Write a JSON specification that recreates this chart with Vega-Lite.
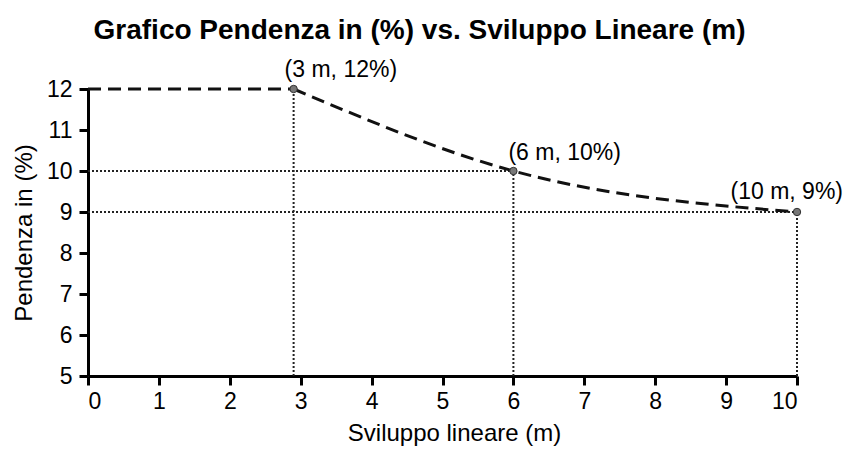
{
  "$schema": "https://vega.github.io/schema/vega-lite/v6.json",
  "autosize": "none",
  "width": 709,
  "height": 287,
  "padding": {"left": 88, "top": 89, "right": 48, "bottom": 74},
  "background": "white",
  "config": {
    "view": {"stroke": null},
    "font": "Liberation Sans",
    "axis": {
      "grid": false,
      "domainColor": "black",
      "domainWidth": 3,
      "tickColor": "black",
      "tickWidth": 3,
      "tickSize": 9,
      "labelFont": "Liberation Sans",
      "labelFontSize": 23,
      "labelColor": "black",
      "titleFont": "Liberation Sans",
      "titleFontSize": 24,
      "titleFontWeight": "normal",
      "titleColor": "black"
    }
  },
  "title": {
    "text": "Grafico Pendenza in (%) vs. Sviluppo Lineare (m)",
    "fontSize": 28,
    "fontWeight": "bold",
    "font": "Liberation Sans",
    "color": "black",
    "anchor": "middle",
    "dx": -23,
    "offset": 14
  },
  "datasets": {
    "curve": [
      {"seg": "a", "x": 0, "y": 12},
      {"seg": "a", "x": 2.9, "y": 12},
      {"seg": "b", "x": 2.9, "y": 12},
      {"seg": "b", "x": 6, "y": 10},
      {"seg": "b", "x": 10, "y": 9}
    ],
    "points": [
      {"x": 2.9, "y": 12, "label": "(3 m, 12%)"},
      {"x": 6, "y": 10, "label": "(6 m, 10%)"},
      {"x": 10, "y": 9, "label": "(10 m, 9%)"}
    ],
    "guides": [
      {"x": 0, "x2": 6, "y": 10, "y2": 10},
      {"x": 0, "x2": 10, "y": 9, "y2": 9},
      {"x": 2.9, "x2": 2.9, "y": 5, "y2": 12},
      {"x": 6, "x2": 6, "y": 5, "y2": 10},
      {"x": 10, "x2": 10, "y": 5, "y2": 9}
    ]
  },
  "encoding": {
    "x": {
      "field": "x",
      "type": "quantitative",
      "scale": {"domain": [0, 10], "nice": false, "zero": false},
      "axis": {"title": "Sviluppo lineare (m)", "values": [0,1,2,3,4,5,6,7,8,9,10], "labelPadding": 5, "titlePadding": 8, "titleX": 366}
    },
    "y": {
      "field": "y",
      "type": "quantitative",
      "scale": {"domain": [5, 12], "nice": false, "zero": false},
      "axis": {"title": "Pendenza in (%)", "values": [5,6,7,8,9,10,11,12], "labelPadding": 7, "titlePadding": 10}
    }
  },
  "layer": [
    {
      "data": {"name": "guides"},
      "mark": {"type": "rule", "color": "#222", "strokeWidth": 2, "strokeDash": [2, 2]},
      "encoding": {"x2": {"field": "x2"}, "y2": {"field": "y2"}}
    },
    {
      "data": {"name": "curve"},
      "mark": {"type": "line", "color": "#111", "strokeWidth": 3, "strokeDash": [13, 7], "interpolate": "monotone"},
      "encoding": {"detail": {"field": "seg"}}
    },
    {
      "data": {"name": "points"},
      "mark": {"type": "circle", "size": 55, "color": "#777", "stroke": "#333", "strokeWidth": 1, "opacity": 1}
    },
    {
      "data": {"name": "points"},
      "transform": [{"filter": "datum.x < 4"}],
      "mark": {"type": "text", "align": "left", "baseline": "alphabetic", "dx": -9, "dy": -12, "fontSize": 23, "color": "black"},
      "encoding": {"text": {"field": "label"}}
    },
    {
      "data": {"name": "points"},
      "transform": [{"filter": "datum.x > 4 && datum.x < 8"}],
      "mark": {"type": "text", "align": "left", "baseline": "alphabetic", "dx": -5, "dy": -11, "fontSize": 23, "color": "black"},
      "encoding": {"text": {"field": "label"}}
    },
    {
      "data": {"name": "points"},
      "transform": [{"filter": "datum.x > 8"}],
      "mark": {"type": "text", "align": "right", "baseline": "alphabetic", "dx": 46, "dy": -13, "fontSize": 23, "color": "black"},
      "encoding": {"text": {"field": "label"}}
    }
  ]
}
